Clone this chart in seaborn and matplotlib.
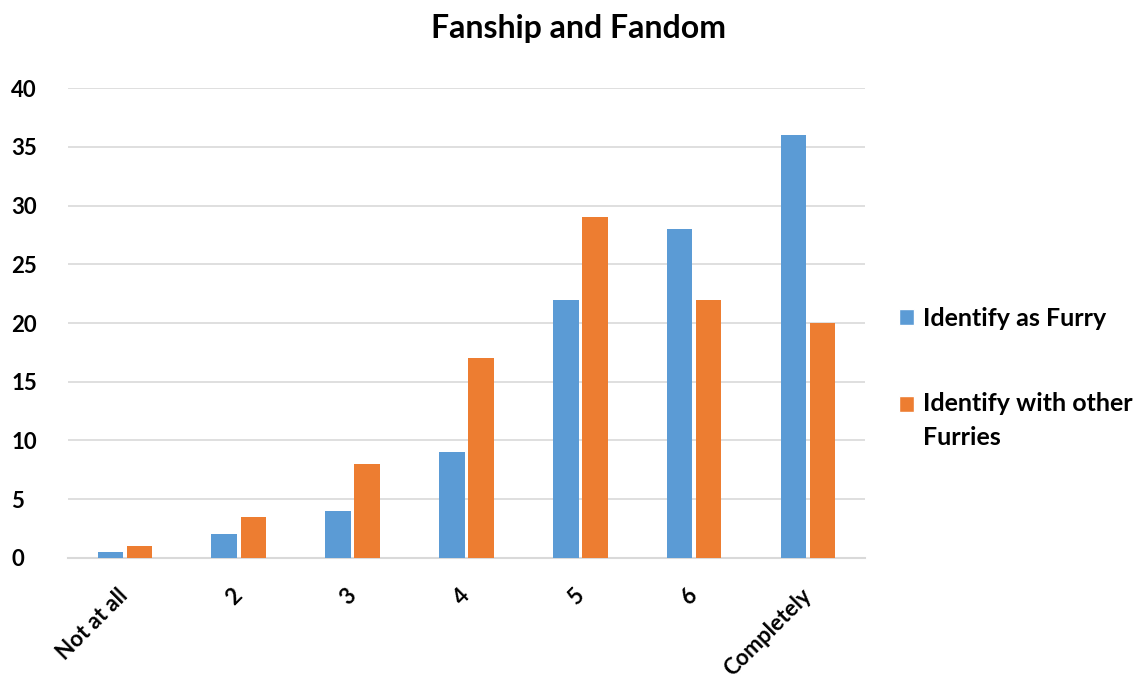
import pandas as pd
import seaborn as sns
import matplotlib.pyplot as plt
from matplotlib.patches import Patch, Rectangle
from matplotlib.legend_handler import HandlerPatch

categories = ["Not at all", "2", "3", "4", "5", "6", "Completely"]
furry = [0.5, 2, 4, 9, 22, 28, 36]
others = [1, 3.5, 8, 17, 29, 22, 20]
series = ["Identify as Furry", "Identify with other Furries"]
legend_labels = ["Identify as Furry", "Identify with other\nFurries"]
colors = ["#5B9BD5", "#ED7D31"]

df = pd.DataFrame({
    "category": categories * 2,
    "value": furry + others,
    "series": [series[0]] * len(categories) + [series[1]] * len(categories),
})

sns.set_style("white")
plt.rcParams['font.family'] = ['Lato', 'DejaVu Sans']
plt.rcParams['font.weight'] = 'bold'
plt.rcParams['text.color'] = 'black'

fig = plt.figure(figsize=(11.41, 6.88), dpi=100)
ax = fig.add_axes([0.0596, 0.189, 0.6984, 0.683])

sns.barplot(data=df, x="category", y="value", hue="series", palette=colors,
            saturation=1, linewidth=0, width=0.51, gap=0.12, ax=ax,
            legend=False, zorder=3)

ax.set_ylim(0, 40)
ax.set_yticks(range(0, 41, 5))
ax.yaxis.grid(True, color="#D9D9D9", linewidth=1.2, zorder=0)
ax.set_axisbelow(True)
for s in ["left", "right", "top"]:
    ax.spines[s].set_visible(False)
ax.spines["bottom"].set_color("#D9D9D9")
ax.spines["bottom"].set_linewidth(1.5)
ax.tick_params(axis="both", length=0, labelsize=16, labelcolor="black")
ax.tick_params(axis="y", pad=41)
ax.tick_params(axis="x", pad=25)
ax.set_xlabel("")
ax.set_ylabel("")
for lbl in ax.get_yticklabels():
    lbl.set_fontweight("bold")
    lbl.set_horizontalalignment("left")
for lbl in ax.get_xticklabels():
    lbl.set_rotation(45)
    lbl.set_horizontalalignment("right")
    lbl.set_verticalalignment("center")
    lbl.set_rotation_mode("anchor")
    lbl.set_fontweight("bold")

fig.text(0.507, 0.959, "Fanship and Fandom", ha="center", va="center",
         fontsize=23, fontweight="bold")


# legend square sits on the first line of a wrapped label
def square(legend, orig_handle, xdescent, ydescent, width, height, fontsize):
    nlines = legend_labels[colors.index(orig_handle.get_facecolor_hex())].count("\n")
    return Rectangle((-xdescent, -ydescent + nlines * 12.5), width, height)


class Handle(Patch):
    def get_facecolor_hex(self):
        return self._hex


handles = []
for c in colors:
    h = Handle(facecolor=c)
    h._hex = c
    handles.append(h)

leg = fig.legend(handles, legend_labels, loc="upper left", bbox_to_anchor=(0.768, 0.587),
                 frameon=False, handlelength=0.6, handleheight=0.6,
                 handletextpad=0.35, labelspacing=2.5,
                 prop={"weight": "bold", "size": 18},
                 handler_map={Handle: HandlerPatch(patch_func=square)})
for t in leg.get_texts():
    t.set_linespacing(1.55)

fig.savefig("out.png", dpi=100)
